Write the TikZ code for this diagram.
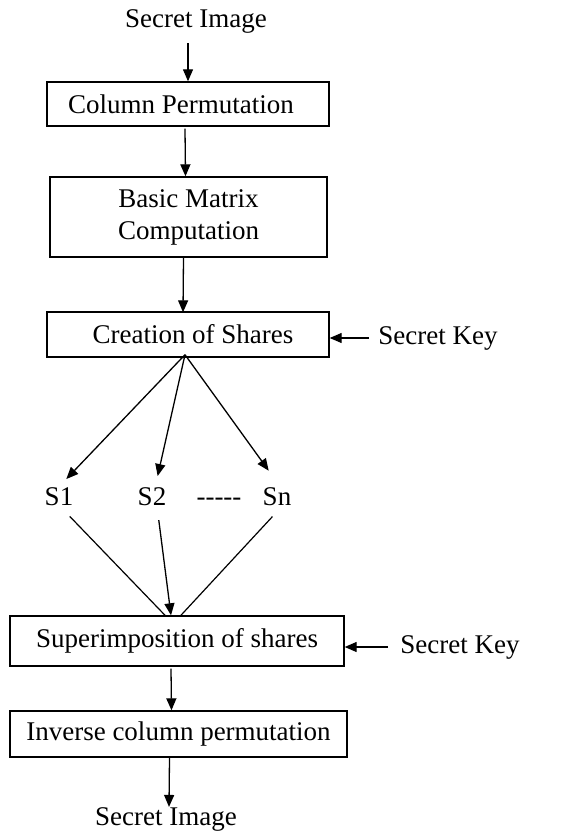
\documentclass[tikz,border=0pt]{standalone}
\usepackage{fontspec}
\setmainfont{Liberation Serif}
\usetikzlibrary{arrows.meta}
\begin{document}
\begin{tikzpicture}[x=1pt,y=-1pt,
  every node/.style={font=\fontsize{27}{32}\selectfont, inner sep=0pt},
  box/.style={draw, line width=1.4pt, align=center},
  arr/.style={line width=1.3pt, -{Triangle[length=12pt,width=10pt]}},
  ln/.style={line width=1.2pt}]
\useasboundingbox (0,0) rectangle (571,834);
% nodes
\node (si1) at (196,21) {Secret Image};
\node[box, minimum width=282pt, minimum height=44pt] (b1) at (188,104) {Column Permutation\hspace{14pt}};
\node[box, minimum width=277pt, minimum height=80pt] (b2) at (188.5,217) {Basic Matrix\\Computation};
\node[box, minimum width=282pt, minimum height=45pt] (b3) at (188,334.5) {\hspace{10pt}Creation of Shares};
\node (k1) at (438,338) {Secret Key};
\node (s1) at (59,497) {S1};
\node (s2) at (152,497) {S2};
\node[anchor=base] (dd) at ([xshift=67pt]s2.base) {{-}{-}{-}{-}{-}};
\node (sn) at (277,497) {Sn};
\node[box, minimum width=334pt, minimum height=50pt] (b4) at (177,641) {Superimposition of shares};
\node (k2) at (460,647) {Secret Key};
\node[box, minimum width=337pt, minimum height=46pt] (b5) at (178.5,734) {Inverse column permutation};
\node (si2) at (166,819) {Secret Image};
% connectors
\draw[arr] (si1.south -| b1.north) ++(0,10) -- (b1.north);
\draw[arr] ([xshift=-3pt]b1.south) ++(0,2) -- ([xshift=-3pt]b2.north);
\draw[arr] ([xshift=-5pt]b2.south) -- ([xshift=-5pt,yshift=-1pt]b3.north);
\draw[arr, shorten <=9pt] (k1.west) -- (k1.west -| b3.east);
\draw[arr, shorten >=12pt] ([xshift=-3pt,yshift=3pt]b3.south) -- ([xshift=-1pt]s1.north);
\draw[arr, shorten >=12pt] ([xshift=-3pt,yshift=3pt]b3.south) -- ([xshift=3pt]s2.north);
\draw[arr, shorten >=21pt] ([xshift=-3pt,yshift=3pt]b3.south) -- ([xshift=4pt]sn.north);
\draw[ln, shorten <=14pt] ([xshift=1pt]s1.south) -- ([xshift=-11pt,yshift=-1pt]b4.north);
\draw[ln, shorten <=14pt] ([xshift=5pt]sn.south) -- ([xshift=3pt,yshift=-1pt]b4.north);
\draw[arr, shorten <=14pt] ([xshift=5pt]s2.south) -- ([xshift=-6pt]b4.north);
\draw[arr, shorten <=12pt] (k2.west) -- (k2.west -| b4.east);
\draw[arr] ([xshift=-6pt]b4.south) ++(0,2) -- ([xshift=-7pt]b5.north);
\draw[arr] ([xshift=-9pt]b5.south) -- ([xshift=3pt]si2.north);
\end{tikzpicture}
\end{document}
